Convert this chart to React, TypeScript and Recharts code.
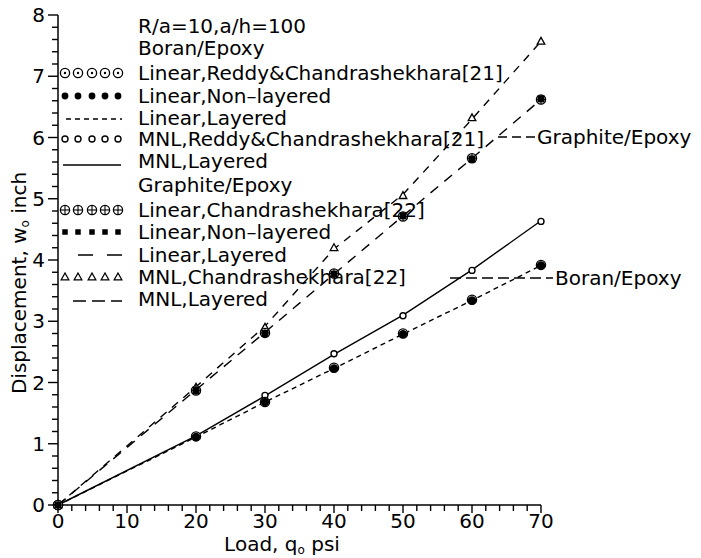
import React from 'react';
import { LineChart, Line, XAxis, YAxis, Customized } from 'recharts';

// ---- data ----
const loads = [0, 20, 30, 40, 50, 60, 70];
// Boron/Epoxy
const boronLinearReddy = [0, 1.12, 1.68, 2.24, 2.8, 3.35, 3.92];
const boronLinearNonLayered = [0, 1.11, 1.68, 2.23, 2.79, 3.34, 3.91];
const boronLinearLayered = [0, 1.11, 1.68, 2.23, 2.79, 3.34, 3.91];
const boronMnlReddy = [0, 1.13, 1.79, 2.47, 3.09, 3.83, 4.63];
const boronMnlLayered = [0, 1.13, 1.78, 2.46, 3.1, 3.84, 4.64];
// Graphite/Epoxy
const graphiteLinearChandra = [0, 1.87, 2.81, 3.78, 4.71, 5.66, 6.62];
const graphiteLinearNonLayered = [0, 1.87, 2.8, 3.77, 4.72, 5.65, 6.63];
const graphiteLinearLayered = [0, 1.88, 2.82, 3.77, 4.72, 5.66, 6.62];
const graphiteMnlChandra = [0, 1.92, 2.9, 4.2, 5.05, 6.32, 7.57];
const graphiteMnlLayered = [0, 1.93, 2.92, 4.18, 5.07, 6.3, 7.57];

const xMajorTicks = [0, 10, 20, 30, 40, 50, 60, 70];
const yMajorTicks = [0, 1, 2, 3, 4, 5, 6, 7, 8];
const xTicks = [0, 2, 4, 6, 8, 10, 12, 14, 16, 18, 20, 22, 24, 26, 28, 30, 32, 34, 36, 38, 40, 42, 44, 46, 48, 50, 52, 54, 56, 58, 60, 62, 64, 66, 68, 70];
const yTicks = yMajorTicks.flatMap((v, i) =>
  i < yMajorTicks.length - 1 ? [v, v + 0.2, v + 0.4, v + 0.6, v + 0.8] : [v]
);

const data = loads.map((q, i) => ({
  q,
  bLR: boronLinearReddy[i],
  bLN: boronLinearNonLayered[i],
  bLL: boronLinearLayered[i],
  bMR: boronMnlReddy[i],
  bML: boronMnlLayered[i],
  gLC: graphiteLinearChandra[i],
  gLN: graphiteLinearNonLayered[i],
  gLL: graphiteLinearLayered[i],
  gMC: graphiteMnlChandra[i],
  gML: graphiteMnlLayered[i],
}));

const FONT = '"DejaVu Sans", sans-serif';
const INK = '#000';

// ---- marker shapes ----
const CircleDot = ({ cx, cy }: any) => (
  <g>
    <circle cx={cx} cy={cy} r={4.6} fill="#fff" stroke={INK} strokeWidth={1.3} />
    <circle cx={cx} cy={cy} r={1.2} fill={INK} />
  </g>
);
const Filled = ({ cx, cy, r = 4 }: any) => <circle cx={cx} cy={cy} r={r} fill={INK} />;
const OpenSmall = ({ cx, cy }: any) => (
  <circle cx={cx} cy={cy} r={3} fill="#fff" stroke={INK} strokeWidth={1.4} />
);
const CirclePlus = ({ cx, cy }: any) => (
  <g>
    <circle cx={cx} cy={cy} r={4.6} fill="#fff" stroke={INK} strokeWidth={1.3} />
    <line x1={cx - 4.6} y1={cy} x2={cx + 4.6} y2={cy} stroke={INK} strokeWidth={1.1} />
    <line x1={cx} y1={cy - 4.6} x2={cx} y2={cy + 4.6} stroke={INK} strokeWidth={1.1} />
  </g>
);
const Square = ({ cx, cy, s = 7 }: any) => (
  <rect x={cx - s / 2} y={cy - s / 2} width={s} height={s} fill={INK} />
);
const Triangle = ({ cx, cy }: any) => (
  <polygon
    points={`${cx},${cy - 4} ${cx - 3.8},${cy + 2.8} ${cx + 3.8},${cy + 2.8}`}
    fill="#fff"
    stroke={INK}
    strokeWidth={1.3}
  />
);

const dotRenderer = (Shape: any, extra: any = {}) => (props: any) => {
  const { cx, cy, index } = props;
  if (cx == null || cy == null) return <g key={`n${index}`} />;
  return (
    <g key={`d${index}`}>
      <Shape cx={cx} cy={cy} {...extra} />
    </g>
  );
};

// ---- ticks ----
const isMajor = (v: number) => Math.abs(v - Math.round(v)) < 1e-6;

const XTick = (props: any) => {
  const { x, y, payload } = props;
  const v = payload.value;
  const major = xMajorTicks.includes(v);
  return (
    <g>
      <line x1={x} y1={y} x2={x} y2={y + (major ? 8 : 6)} stroke={INK} strokeWidth={1.4} />
      {major && (
        <text x={x} y={y + 23} textAnchor="middle" fontFamily={FONT} fontSize={20} fill={INK}>
          {v}
        </text>
      )}
    </g>
  );
};

const YTick = (props: any) => {
  const { x, y, payload } = props;
  const v = payload.value;
  const major = isMajor(v);
  return (
    <g>
      <line x1={x - (major ? 10 : 6)} y1={y} x2={x} y2={y} stroke={INK} strokeWidth={1.4} />
      {major && (
        <text x={x - 13} y={y + 7} textAnchor="end" fontFamily={FONT} fontSize={20} fill={INK}>
          {Math.round(v)}
        </text>
      )}
    </g>
  );
};

// ---- legend + labels overlay ----
const symbolXs = [65, 78, 92, 105, 118];

type Row = { y: number; text: string; sym?: string };
const legendRows: Row[] = [
  { y: 26, text: 'R/a=10,a/h=100' },
  { y: 48, text: 'Boran/Epoxy' },
  { y: 73, text: 'Linear,Reddy&Chandrashekhara[21]', sym: 'circleDot' },
  { y: 96, text: 'Linear,Non–layered', sym: 'filled' },
  { y: 118, text: 'Linear,Layered', sym: 'shortDash' },
  { y: 139, text: 'MNL,Reddy&Chandrashekhara[21]', sym: 'openSmall' },
  { y: 161, text: 'MNL,Layered', sym: 'solid' },
  { y: 185, text: 'Graphite/Epoxy' },
  { y: 210, text: 'Linear,Chandrashekhara[22]', sym: 'circlePlus' },
  { y: 232, text: 'Linear,Non–layered', sym: 'square' },
  { y: 255, text: 'Linear,Layered', sym: 'longDash' },
  { y: 277, text: 'MNL,Chandrashekhara[22]', sym: 'triangle' },
  { y: 299, text: 'MNL,Layered', sym: 'medDash' },
];

const LegendSymbol = ({ sym, y }: { sym?: string; y: number }) => {
  const markers = (Shape: any, extra: any = {}) =>
    symbolXs.map((sx, i) => <Shape key={i} cx={sx} cy={y} {...extra} />);
  switch (sym) {
    case 'circleDot':
      return <g>{markers(CircleDot)}</g>;
    case 'filled':
      return <g>{markers(Filled, { r: 3.4 })}</g>;
    case 'openSmall':
      return <g>{markers(OpenSmall)}</g>;
    case 'circlePlus':
      return <g>{markers(CirclePlus)}</g>;
    case 'square':
      return <g>{markers(Square, { s: 5.5 })}</g>;
    case 'triangle':
      return <g>{markers(Triangle)}</g>;
    case 'shortDash':
      return <line x1={66} y1={y + 1} x2={122} y2={y + 1} stroke={INK} strokeWidth={1.4} strokeDasharray="5 4" />;
    case 'solid':
      return <line x1={63} y1={y + 4} x2={121} y2={y + 4} stroke={INK} strokeWidth={1.4} />;
    case 'longDash':
      return <line x1={78} y1={y} x2={122} y2={y} stroke={INK} strokeWidth={1.4} strokeDasharray="15 14" />;
    case 'medDash':
      return <line x1={73} y1={y + 2} x2={122} y2={y + 2} stroke={INK} strokeWidth={1.4} strokeDasharray="13 6" />;
    default:
      return null;
  }
};

const Overlay = () => (
  <g fontFamily={FONT} fill={INK}>
    {legendRows.map((r, i) => (
      <g key={i}>
        <LegendSymbol sym={r.sym} y={r.y} />
        <text x={138} y={r.y + 7} fontSize={20} fill={INK}>
          {r.text}
        </text>
      </g>
    ))}
    {/* annotations */}
    <line x1={498} y1={137} x2={535} y2={137} stroke={INK} strokeWidth={1.4} strokeDasharray="9 5" />
    <text x={537} y={144} fontSize={20} fill={INK}>Graphite/Epoxy</text>
    <line x1={450} y1={278} x2={553} y2={278} stroke={INK} strokeWidth={1.4} strokeDasharray="11 5" />
    <text x={555} y={285} fontSize={20} fill={INK}>Boran/Epoxy</text>
    {/* axis titles */}
    <text x={282} y={551} fontSize={20} textAnchor="middle" fill={INK}>
      Load, q<tspan fontSize={12} dy={3}>o</tspan>
      <tspan dy={-3}> psi</tspan>
    </text>
    <text
      x={0}
      y={0}
      fontSize={20}
      textAnchor="middle"
      fill={INK}
      transform="translate(26,283) rotate(-90)"
    >
      Displacement, w<tspan fontSize={12} dy={3}>o</tspan>
      <tspan dy={-3}> inch</tspan>
    </text>
  </g>
);

export default function App() {
  return (
    <div style={{ position: 'absolute', left: 0, top: 0, width: 701, height: 558, background: '#fff' }}>
      <LineChart
        width={701}
        height={558}
        data={data}
        margin={{ top: 15, right: 160, bottom: 0, left: 0 }}
      >
        <XAxis
          dataKey="q"
          type="number"
          domain={[0, 70]}
          ticks={xTicks}
          interval={0}
          tickSize={0}
          tickMargin={0}
          tick={<XTick />}
          height={53}
          axisLine={{ stroke: INK, strokeWidth: 1.5 }}
          tickLine={false}
        />
        <YAxis
          type="number"
          domain={[0, 8]}
          ticks={yTicks}
          interval={0}
          tickSize={0}
          tickMargin={0}
          tick={<YTick />}
          width={58}
          axisLine={{ stroke: INK, strokeWidth: 1.5 }}
          tickLine={false}
        />
        {/* lines */}
        <Line dataKey="bLL" stroke={INK} strokeWidth={1.4} strokeDasharray="5 4" dot={false} isAnimationActive={false} />
        <Line dataKey="bML" stroke={INK} strokeWidth={1.4} dot={false} isAnimationActive={false} />
        <Line dataKey="gLL" stroke={INK} strokeWidth={1.4} strokeDasharray="10 8" dot={false} isAnimationActive={false} />
        <Line dataKey="gML" stroke={INK} strokeWidth={1.4} strokeDasharray="8 7" dot={false} isAnimationActive={false} />
        {/* markers */}
        <Line dataKey="bMR" stroke="none" dot={dotRenderer(OpenSmall)} isAnimationActive={false} />
        <Line dataKey="bLR" stroke="none" dot={dotRenderer(CircleDot)} isAnimationActive={false} />
        <Line dataKey="bLN" stroke="none" dot={dotRenderer(Filled, { r: 4.2 })} isAnimationActive={false} />
        <Line dataKey="gMC" stroke="none" dot={dotRenderer(Triangle)} isAnimationActive={false} />
        <Line dataKey="gLC" stroke="none" dot={dotRenderer(CirclePlus)} isAnimationActive={false} />
        <Line dataKey="gLN" stroke="none" dot={dotRenderer(Square, { s: 7 })} isAnimationActive={false} />
        <Customized component={Overlay} />
      </LineChart>
    </div>
  );
}
